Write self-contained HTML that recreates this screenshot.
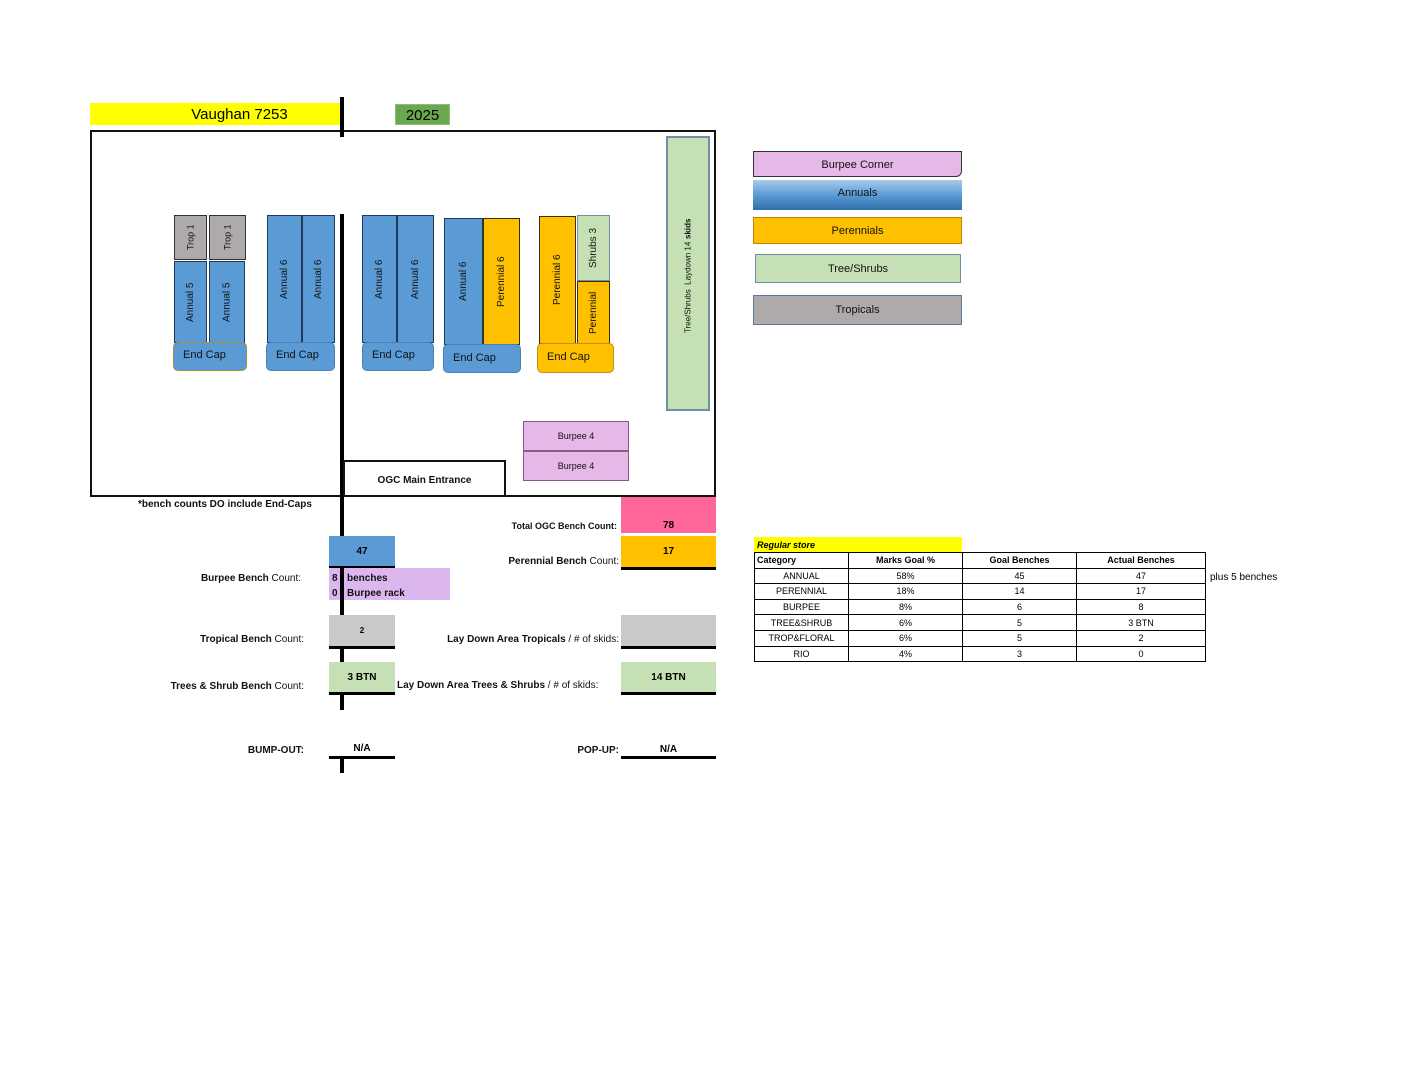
<!DOCTYPE html>
<html><head><meta charset="utf-8"><style>
body{margin:0;width:1408px;height:1088px;background:#fff;position:relative;font-family:"Liberation Sans",sans-serif;overflow:hidden}
.a{position:absolute;box-sizing:border-box}
.v{position:absolute;box-sizing:border-box;display:flex;align-items:center;justify-content:center;writing-mode:vertical-rl;transform:rotate(180deg);font-size:10px;color:#111;border:1px solid #222}
.b{background:#5b9bd5;border-color:#1f3a5a}
.o{background:#ffc000;border-color:#3a3000}
.g{background:#aeaaaa;border-color:#333}
.s{background:#c5e0b4;border-color:#6f8fa8}
.ec{position:absolute;box-sizing:border-box;border-radius:5px;font-size:11px;padding:6px 0 0 9px;color:#111}
.l{position:absolute;font-size:10px;font-weight:bold;color:#111;text-align:right;white-space:nowrap}
.n{font-weight:normal}
.bx{position:absolute;box-sizing:border-box;font-size:10px;font-weight:bold;display:flex;align-items:center;justify-content:center;border-bottom:3px solid #000}
.leg{position:absolute;box-sizing:border-box;font-size:11px;display:flex;align-items:center;justify-content:center;color:#111}
table{position:absolute;left:754px;top:552px;border-collapse:collapse;font-size:9px}
td{border:1px solid #000;height:14.6px;padding:0;text-align:center}
</style></head><body>
<div class="a" style="left:90px;top:103px;width:253px;height:22px;background:#ffff00;font-size:15px;text-align:center;line-height:24px;padding-left:46px">Vaughan 7253</div>
<div class="a" style="left:395px;top:104px;width:55px;height:21px;background:#6aa84f;font-size:15px;text-align:center;line-height:22px;border:1px solid #8fbf70">2025</div>
<div class="a" style="left:90px;top:130px;width:626px;height:367px;border:2.5px solid #111"></div>
<div class="a" style="left:340px;top:97px;width:4px;height:40px;background:#000"></div>
<div class="a" style="left:340px;top:214px;width:4px;height:496px;background:#000"></div>
<div class="a" style="left:340px;top:757px;width:4px;height:16px;background:#000"></div>

<div class="v s" style="left:666px;top:136px;width:44px;height:275px;border-width:2px;font-size:8px;justify-content:flex-start;padding-top:76px;padding-bottom:0">Tree/Shrubs&nbsp; Laydown 14&nbsp;<b>skids</b></div>

<div class="v g" style="left:174px;top:215px;width:33px;height:45px;font-size:9px">Trop 1</div>
<div class="v g" style="left:209px;top:215px;width:37px;height:45px;font-size:9px">Trop 1</div>
<div class="v b" style="left:174px;top:261px;width:33px;height:82px">Annual 5</div>
<div class="v b" style="left:209px;top:261px;width:36px;height:82px">Annual 5</div>
<div class="ec" style="left:173px;top:342px;width:74px;height:29px;background:#5b9bd5;border:1.5px solid #a09040">End Cap</div>

<div class="v b" style="left:267px;top:215px;width:35px;height:128px">Annual 6</div>
<div class="v b" style="left:302px;top:215px;width:33px;height:128px">Annual 6</div>
<div class="ec" style="left:266px;top:342px;width:69px;height:29px;background:#5b9bd5;border:1px solid #4a80b8">End Cap</div>

<div class="v b" style="left:362px;top:215px;width:35px;height:128px">Annual 6</div>
<div class="v b" style="left:397px;top:215px;width:37px;height:128px">Annual 6</div>
<div class="ec" style="left:362px;top:342px;width:72px;height:29px;background:#5b9bd5;border:1px solid #4a80b8">End Cap</div>

<div class="v b" style="left:444px;top:218px;width:39px;height:127px">Annual 6</div>
<div class="v o" style="left:483px;top:218px;width:37px;height:127px">Perennial 6</div>
<div class="ec" style="left:443px;top:344px;width:78px;height:29px;background:#5b9bd5;border:1px solid #4a80b8;padding-top:7px">End Cap</div>

<div class="v o" style="left:539px;top:216px;width:37px;height:128px">Perennial 6</div>
<div class="v s" style="left:577px;top:215px;width:33px;height:66px">Shrubs 3</div>
<div class="v o" style="left:577px;top:281px;width:33px;height:63px">Perennial</div>
<div class="ec" style="left:537px;top:343px;width:77px;height:30px;background:#ffc000;border:1px solid #c09020;padding-top:7px">End Cap</div>

<div class="leg" style="left:523px;top:421px;width:106px;height:30px;background:#e6b8e8;border:1.5px solid #7f6084;font-size:9px">Burpee 4</div>
<div class="leg" style="left:523px;top:451px;width:106px;height:30px;background:#e6b8e8;border:1.5px solid #7f6084;font-size:9px">Burpee 4</div>
<div class="leg" style="left:343px;top:460px;width:163px;height:37px;border:2.5px solid #111;border-bottom:none;font-size:10px;font-weight:bold;padding-top:2px">OGC Main Entrance</div>

<div class="l" style="left:138px;top:499px">*bench counts DO include End-Caps</div>

<div class="l" style="right:791px;top:521px;font-size:9px">Total OGC Bench Count:</div>
<div class="bx" style="left:621px;top:497px;width:95px;height:36px;background:#ff6699;border:none;align-items:flex-end;padding-bottom:2px">78</div>

<div class="bx" style="left:329px;top:536px;width:66px;height:33px;background:#5b9bd5">47</div>
<div class="l" style="right:789px;top:556px"><span>Perennial Bench</span> <span class="n">Count:</span></div>
<div class="bx" style="left:621px;top:536px;width:95px;height:34px;background:#ffc000">17</div>

<div class="a" style="left:329px;top:568px;width:121px;height:32px;background:#dcb7ef"></div>
<div class="a" style="left:340px;top:568px;width:4px;height:32px;background:#000"></div>
<div class="l" style="left:332px;top:573px;text-align:left">8</div>
<div class="l" style="left:347px;top:573px;text-align:left">benches</div>
<div class="l" style="left:332px;top:588px;text-align:left">0</div>
<div class="l" style="left:347px;top:588px;text-align:left">Burpee rack</div>
<div class="l" style="right:1107px;top:573px">Burpee Bench <span class="n">Count:</span></div>

<div class="bx" style="left:329px;top:615px;width:66px;height:34px;background:#c9c9c9;font-size:8px;align-items:flex-start;padding-top:11px">2</div>
<div class="l" style="right:1104px;top:634px">Tropical Bench <span class="n">Count:</span></div>
<div class="l" style="right:789px;top:634px">Lay Down Area Tropicals <span class="n">/ # of skids:</span></div>
<div class="bx" style="left:621px;top:615px;width:95px;height:34px;background:#c9c9c9"></div>

<div class="bx" style="left:329px;top:662px;width:66px;height:33px;background:#c5e0b4">3 BTN</div>
<div class="l" style="right:1104px;top:681px">Trees &amp; Shrub Bench <span class="n">Count:</span></div>
<div class="l" style="left:397px;top:680px;text-align:left">Lay Down Area Trees &amp; Shrubs <span class="n">/ # of skids:</span></div>
<div class="bx" style="left:621px;top:662px;width:95px;height:33px;background:#c5e0b4">14 BTN</div>

<div class="l" style="right:1104px;top:745px">BUMP-OUT:</div>
<div class="bx" style="left:329px;top:740px;width:66px;height:19px">N/A</div>
<div class="l" style="right:789px;top:745px">POP-UP:</div>
<div class="bx" style="left:621px;top:740px;width:95px;height:19px;padding-top:3px">N/A</div>

<div class="leg" style="left:753px;top:151px;width:209px;height:26px;background:#e6b8e8;border:1px solid #333;border-radius:0 0 6px 0;padding-top:2px">Burpee Corner</div>
<div class="leg" style="left:753px;top:180px;width:209px;height:30px;background:linear-gradient(#a9cbec,#5b9bd5 50%,#2e6eaa);padding-bottom:4px">Annuals</div>
<div class="leg" style="left:753px;top:217px;width:209px;height:27px;background:#ffc000;border:1px solid #c08000">Perennials</div>
<div class="leg" style="left:755px;top:254px;width:206px;height:29px;background:#c5e0b4;border:1.5px solid #6f8fa8">Tree/Shrubs</div>
<div class="leg" style="left:753px;top:295px;width:209px;height:30px;background:#aeaaaa;border:1.5px solid #5a7a9a">Tropicals</div>

<div class="a" style="left:754px;top:537px;width:208px;height:15px;background:#ffff00;font-size:9px;font-weight:bold;font-style:italic;padding:3px 0 0 3px">Regular store</div>
<table>
<tr style="font-weight:bold"><td style="width:91px;text-align:left;padding-left:2px">Category</td><td style="width:113px">Marks Goal %</td><td style="width:113px">Goal Benches</td><td style="width:128px">Actual Benches</td></tr>
<tr><td>ANNUAL</td><td>58%</td><td>45</td><td>47</td></tr>
<tr><td>PERENNIAL</td><td>18%</td><td>14</td><td>17</td></tr>
<tr><td>BURPEE</td><td>8%</td><td>6</td><td>8</td></tr>
<tr><td>TREE&amp;SHRUB</td><td>6%</td><td>5</td><td>3 BTN</td></tr>
<tr><td>TROP&amp;FLORAL</td><td>6%</td><td>5</td><td>2</td></tr>
<tr><td>RIO</td><td>4%</td><td>3</td><td>0</td></tr>
</table>
<div class="a" style="left:1210px;top:572px;font-size:10px">plus 5 benches</div>
</body></html>
